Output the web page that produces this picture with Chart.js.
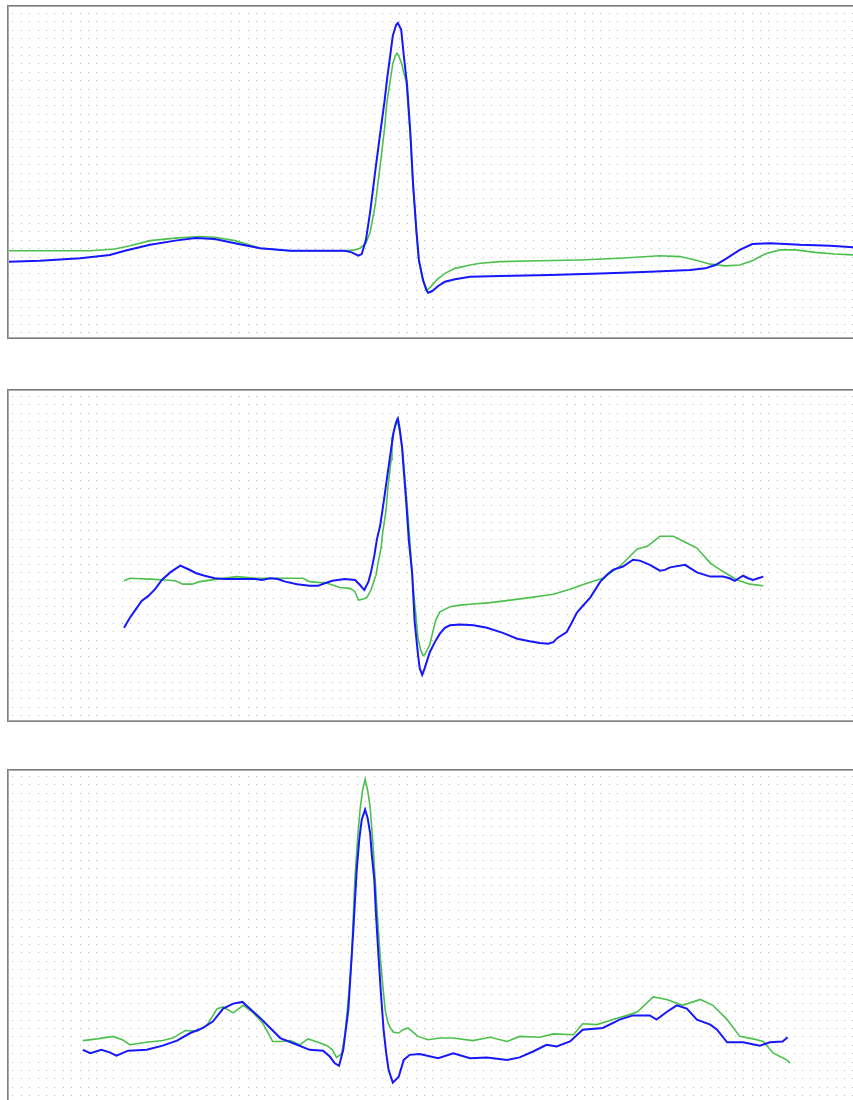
<!DOCTYPE html>
<html>
<head>
<meta charset="utf-8">
<script src="https://cdn.jsdelivr.net/npm/chart.js@4/dist/chart.umd.min.js"></script>
<style>
  html, body { margin: 0; padding: 0; background: #ffffff; overflow: hidden; }
  body { width: 853px; height: 1100px; position: relative; }
  canvas { position: absolute; left: 7px; }
</style>
</head>
<body>
<canvas id="strip1" width="846" height="334" style="top:5px"></canvas>
<canvas id="strip2" width="846" height="333" style="top:389px"></canvas>
<canvas id="strip3" width="846" height="334" style="top:769px"></canvas>
<script>
// ---- Averaged beats, time in ms, amplitude in mV ----

// Strip 1
const strip1TraceATime = [-5,33,81,116,134,164,194,218,241,265,295,331,366,396,404,412,416,421,426,432,438,443,446,450,453,457,459,463,466,470,474,477,481,484,489,493,495,500,507,515,527,545,581,640,700,759,807,825,837,849,866,881,902,938,974,1001];
const strip1TraceA = [-0.16,-0.15,-0.12,-0.08,-0.03,0.04,0.09,0.12,0.11,0.06,0.00,-0.03,-0.03,-0.03,-0.05,-0.09,-0.07,0.10,0.43,0.91,1.37,1.74,2.00,2.30,2.53,2.66,2.68,2.60,2.30,1.94,1.35,0.78,0.22,-0.14,-0.38,-0.50,-0.53,-0.51,-0.45,-0.40,-0.37,-0.34,-0.33,-0.32,-0.30,-0.28,-0.26,-0.24,-0.20,-0.13,-0.02,0.05,0.06,0.04,0.03,0.01];
const strip1TraceBTime = [-5,45,93,122,140,164,194,223,241,265,295,331,366,396,408,414,421,426,432,438,443,446,450,453,456,458,460,464,466,469,474,477,481,484,489,494,498,506,515,527,545,557,581,628,676,723,771,795,813,831,849,866,881,896,914,932,956,979,1001];
const strip1TraceB = [-0.03,-0.03,-0.03,-0.01,0.03,0.09,0.12,0.14,0.13,0.09,0.00,-0.03,-0.03,-0.03,-0.02,0.00,0.06,0.19,0.51,0.99,1.41,1.74,2.00,2.20,2.29,2.32,2.29,2.18,2.09,1.98,1.32,0.75,0.19,-0.15,-0.39,-0.50,-0.46,-0.37,-0.30,-0.24,-0.20,-0.18,-0.16,-0.15,-0.14,-0.12,-0.09,-0.10,-0.14,-0.19,-0.21,-0.20,-0.15,-0.07,-0.02,-0.02,-0.05,-0.07,-0.08];

// Strip 2
const strip2TraceATime = [133,140,147,154,162,170,178,188,200,209,219,229,241,253,271,289,297,307,316,325,339,354,364,372,381,396,408,414,419,424,427,431,434,438,443,446,450,452,454,457,459,461,464,466,469,472,476,479,483,485,488,491,497,503,509,515,521,533,549,565,584,601,616,628,638,644,649,660,666,672,679,688,700,709,715,727,739,747,759,771,777,783,801,807,815,831,846,854,860,865,870,876,882,888,894];
const strip2TraceA = [-0.56,-0.44,-0.34,-0.24,-0.18,-0.10,0.01,0.10,0.18,0.14,0.09,0.06,0.03,0.02,0.02,0.02,0.01,0.03,0.02,-0.01,-0.04,-0.06,-0.06,-0.03,0.00,0.02,0.01,-0.05,-0.11,-0.01,0.10,0.30,0.49,0.66,1.00,1.22,1.50,1.64,1.77,1.89,1.93,1.82,1.59,1.32,0.93,0.49,0.09,-0.49,-0.88,-1.04,-1.12,-1.04,-0.85,-0.73,-0.63,-0.56,-0.53,-0.52,-0.53,-0.56,-0.62,-0.69,-0.72,-0.74,-0.75,-0.73,-0.68,-0.61,-0.50,-0.38,-0.30,-0.20,-0.01,0.08,0.13,0.17,0.25,0.24,0.19,0.12,0.13,0.16,0.19,0.15,0.10,0.05,0.05,0.03,0.00,0.03,0.06,0.03,0.01,0.03,0.05];
const strip2TraceBTime = [133,140,164,182,194,203,214,223,244,267,291,315,346,354,375,390,402,408,412,417,422,427,429,433,435,439,441,445,447,451,452,456,458,462,465,468,471,474,477,480,483,486,489,491,495,497,501,504,509,515,521,533,545,569,593,616,644,664,684,703,723,744,756,771,787,803,815,831,846,863,878,894];
const strip2TraceB = [0.00,0.03,0.02,0.01,0.00,-0.04,-0.04,-0.01,0.02,0.05,0.03,0.03,0.03,-0.01,-0.03,-0.08,-0.09,-0.13,-0.23,-0.22,-0.20,-0.11,-0.05,0.07,0.19,0.39,0.58,0.84,1.10,1.44,1.70,1.85,1.92,1.74,1.50,1.14,0.78,0.37,-0.05,-0.37,-0.68,-0.82,-0.89,-0.88,-0.80,-0.76,-0.59,-0.47,-0.37,-0.34,-0.31,-0.29,-0.28,-0.26,-0.23,-0.20,-0.16,-0.10,-0.03,0.03,0.17,0.38,0.41,0.53,0.53,0.45,0.39,0.21,0.11,0.01,-0.04,-0.06];

// Strip 3
const strip3TraceATime = [84,93,106,116,124,138,160,179,196,212,227,239,251,263,274,283,295,307,319,339,354,370,378,384,389,394,397,400,403,406,410,413,416,420,423,426,428,431,433,436,439,442,445,448,453,460,466,473,485,507,525,545,565,589,604,620,636,648,664,679,703,723,739,759,767,779,791,803,815,831,839,851,870,890,902,917,923];
const strip3TraceA = [-0.16,-0.20,-0.16,-0.19,-0.23,-0.17,-0.16,-0.11,-0.05,0.04,0.10,0.18,0.33,0.39,0.41,0.33,0.22,0.10,-0.02,-0.10,-0.16,-0.17,-0.24,-0.32,-0.35,-0.16,0.08,0.31,0.79,1.27,1.98,2.34,2.58,2.70,2.60,2.42,2.16,1.86,1.45,0.95,0.49,0.08,-0.19,-0.40,-0.55,-0.48,-0.28,-0.22,-0.21,-0.26,-0.20,-0.26,-0.25,-0.28,-0.25,-0.18,-0.10,-0.12,-0.06,0.08,0.10,0.20,0.25,0.25,0.20,0.29,0.37,0.33,0.20,0.14,0.08,-0.07,-0.07,-0.11,-0.07,-0.06,-0.01];
const strip3TraceBTime = [84,101,120,131,140,160,179,191,206,220,232,244,251,263,275,287,298,310,319,331,342,352,364,375,381,386,392,396,398,401,404,406,408,411,414,417,420,423,426,429,432,435,438,441,444,447,450,454,460,465,471,477,483,495,509,525,548,569,589,604,628,644,668,679,696,715,732,744,763,779,798,819,834,851,866,882,894,906,922,926];
const strip3TraceB = [-0.05,-0.03,0.00,-0.04,-0.10,-0.07,-0.05,-0.02,0.07,0.06,0.14,0.33,0.35,0.28,0.37,0.28,0.16,-0.06,-0.06,-0.05,-0.10,-0.03,-0.07,-0.11,-0.16,-0.25,-0.21,0.02,0.23,0.55,0.95,1.45,1.90,2.34,2.70,2.93,3.06,2.93,2.73,2.34,1.86,1.39,0.95,0.61,0.31,0.17,0.10,0.05,0.04,0.08,0.10,0.05,0.00,-0.04,-0.02,-0.02,-0.05,-0.01,-0.06,0.00,-0.01,0.03,0.02,0.15,0.14,0.20,0.25,0.29,0.47,0.44,0.37,0.44,0.37,0.20,0.00,-0.03,-0.06,-0.20,-0.28,-0.32];

// Visible windows: time (ms) shared by all strips, amplitude (mV) per strip
const timeWindow = [-6.31, 1000.83];
const strip1Window = [-1.081, 2.895];
const strip2Window = [-1.681, 2.283];
const strip3Window = [-0.793, 3.183];

// Grid: one dot every 10 ms and every 0.1 mV
const gridStepMs = 10;
const gridStepMv = 0.1;

const traceAColor = '#1616ff';
const traceBColor = '#4cc04c';

const dotGrid = {
  id: 'dotGrid',
  beforeDatasetsDraw(chart) {
    const { ctx, chartArea: a, scales: { x, y } } = chart;
    ctx.save();
    ctx.fillStyle = '#b9b9b9';
    const lo = Math.ceil(y.min / gridStepMv - 1e-6);
    const hi = Math.floor(y.max / gridStepMv + 1e-6);
    for (let r = lo; r <= hi; r++) {
      const py = Math.round(y.getPixelForValue(r * gridStepMv));
      if (py < a.top + 4 || py > a.bottom - 4) continue;
      for (let t = 0; t <= 1000; t += gridStepMs) {
        const px = Math.round(x.getPixelForValue(t));
        if (px < a.left + 3 || px > a.right - 1) continue;
        ctx.fillRect(px, py, 1, 1);
      }
    }
    ctx.restore();
  }
};

const frame = {
  id: 'frame',
  afterDraw(chart) {
    const { ctx, width: w, height: h } = chart;
    ctx.save();
    ctx.fillStyle = '#7e7e7e';
    ctx.fillRect(0, 0, w, 1);
    ctx.fillRect(0, 0, 1, h);
    ctx.fillRect(0, h - 1, w, 1);
    ctx.fillStyle = '#a8a8a8';
    ctx.fillRect(1, 1, w - 1, 1);
    ctx.fillRect(1, 1, 1, h - 2);
    ctx.fillRect(1, h - 2, w - 1, 1);
    ctx.restore();
  }
};

function points(times, values) {
  return times.map((t, i) => ({ x: t, y: values[i] }));
}

function drawStrip(id, aTime, aVals, bTime, bVals, win) {
  new Chart(document.getElementById(id), {
    type: 'line',
    data: {
      datasets: [
        { data: points(aTime, aVals), borderColor: traceAColor, borderWidth: 2, pointRadius: 0, tension: 0, fill: false },
        { data: points(bTime, bVals), borderColor: traceBColor, borderWidth: 1.6, pointRadius: 0, tension: 0, fill: false }
      ]
    },
    options: {
      responsive: false,
      animation: false,
      devicePixelRatio: 1,
      layout: { padding: 0 },
      plugins: { legend: { display: false }, tooltip: { enabled: false } },
      events: [],
      scales: {
        x: { type: 'linear', min: timeWindow[0], max: timeWindow[1], display: false },
        y: { type: 'linear', min: win[0], max: win[1], display: false }
      }
    },
    plugins: [dotGrid, frame]
  });
}

drawStrip('strip1', strip1TraceATime, strip1TraceA, strip1TraceBTime, strip1TraceB, strip1Window);
drawStrip('strip2', strip2TraceATime, strip2TraceA, strip2TraceBTime, strip2TraceB, strip2Window);
drawStrip('strip3', strip3TraceATime, strip3TraceA, strip3TraceBTime, strip3TraceB, strip3Window);
</script>
</body>
</html>
